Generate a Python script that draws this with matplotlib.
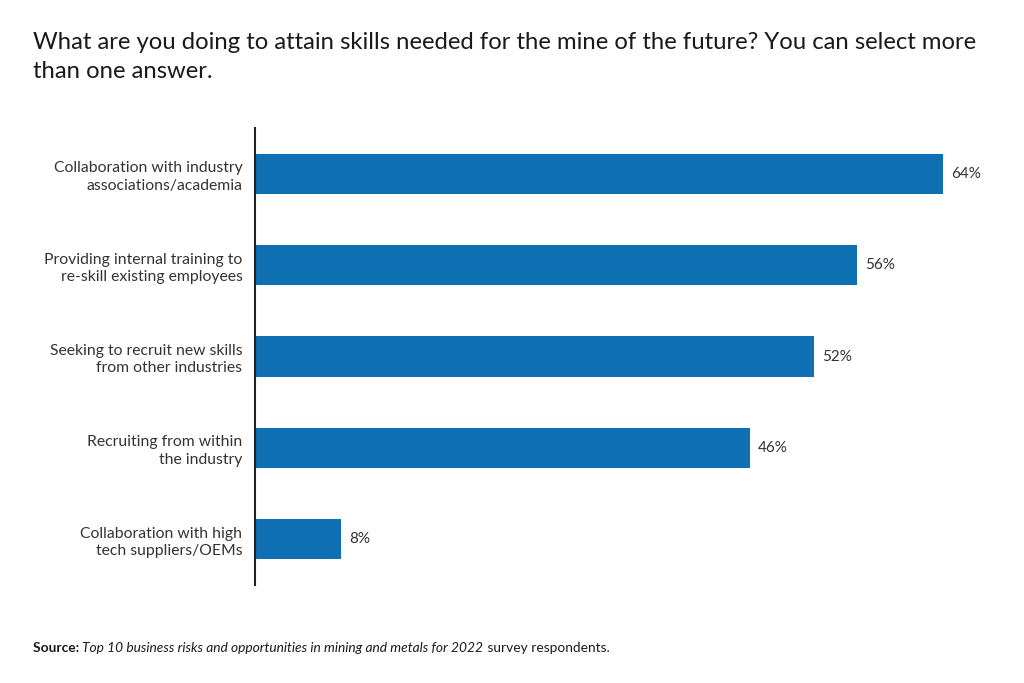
import matplotlib.pyplot as plt

plt.rcParams['font.family'] = ['Lato', 'DejaVu Sans']

# Data
categories = [
    'Collaboration with industry\nassociations/academia',
    'Providing internal training to\nre-skill existing employees',
    'Seeking to recruit new skills\nfrom other industries',
    'Recruiting from within\nthe industry',
    'Collaboration with high\ntech suppliers/OEMs',
]
values = [64, 56, 52, 46, 8]
value_labels = ['64%', '56%', '52%', '46%', '8%']

title = ('What are you doing to attain skills needed for the mine of the future? You can select more\n'
         'than one answer.')

bar_color = '#0E70B3'
text_color = '#333333'

fig = plt.figure(figsize=(10.24, 6.83), dpi=100)
ax = fig.add_axes([255 / 1024, 1 - 585 / 683, (1000 - 255) / 1024, (585 - 128) / 683])

y = list(range(len(categories)))
ax.barh(y, values, height=0.44, color=bar_color)

ax.set_xlim(0, (1000 - 255) / 10.75)
ax.set_ylim(len(categories) - 0.5, -0.5)

# Value labels at bar ends
for yi, v, lab in zip(y, values, value_labels):
    ax.annotate(lab, (v, yi), xytext=(6, 0), textcoords='offset points',
                va='center', ha='left', fontsize=11, color=text_color)

ax.set_yticks(y)
ax.set_yticklabels(categories, fontsize=11.3, color=text_color, linespacing=1.3)
ax.tick_params(axis='y', length=0, pad=9)
ax.set_xticks([])

for s in ['top', 'right', 'bottom']:
    ax.spines[s].set_visible(False)
ax.spines['left'].set_color('#222222')
ax.spines['left'].set_linewidth(1.5)

# Title
fig.text(33 / 1024, 1 - 32 / 683, title, ha='left', va='top', fontsize=17.2,
         color='#1a1a1a', linespacing=1.45)

# Source line with mixed styles
t1 = fig.text(33 / 1024, 1 - 652 / 683, 'Source: ', ha='left', va='baseline',
              fontsize=9.9, fontweight='bold', color='#1a1a1a')
t2 = ax.annotate('Top 10 business risks and opportunities in mining and metals for 2022',
                 xy=(1, 0), xycoords=t1, va='bottom', ha='left',
                 fontsize=9.9, style='italic', color='#1a1a1a')
t3 = ax.annotate(' survey respondents.', xy=(1, 0), xycoords=t2, va='bottom', ha='left',
                 fontsize=9.9, color='#1a1a1a')

fig.savefig('out.png', dpi=100)
